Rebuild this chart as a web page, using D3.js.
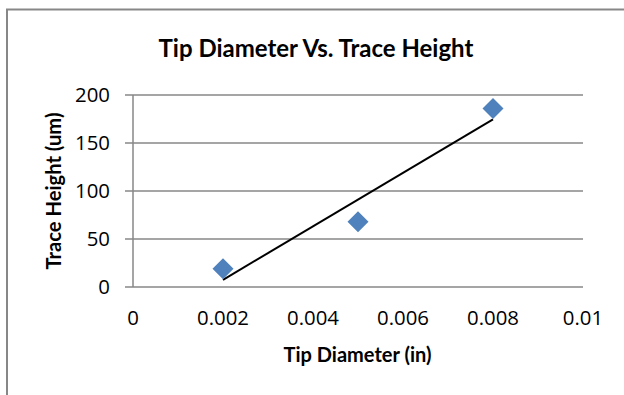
<!DOCTYPE html>
<html>
<head>
<meta charset="utf-8">
<script src="https://cdn.jsdelivr.net/npm/d3@7"></script>
<style>
  body { margin: 0; background: #fff; }
  svg { display: block; }
  .tick-label { font-family: "Open Sans", sans-serif; fill: #000; }
  .title { font-family: Lato, sans-serif; font-weight: bold; fill: #000; }
</style>
</head>
<body>
<div id="chart"></div>
<script>
// data
const tipDiameter = [0.002, 0.005, 0.008];
const traceHeight = [19, 68, 186];
const xTicks = [0, 0.002, 0.004, 0.006, 0.008, 0.01];
const yTicks = [0, 50, 100, 150, 200];

const W = 624, H = 395;
const plot = { left: 133, right: 583, top: 95, bottom: 287 };
const gridColor = "#878787";

const svg = d3.select("#chart").append("svg")
  .attr("width", W)
  .attr("height", H);

// scale a text's font-size so it spans the given width
function fitWidth(sel, target) {
  const node = sel.node();
  const fs = parseFloat(sel.attr("font-size"));
  const w = node.getComputedTextLength();
  if (w > 0) sel.attr("font-size", (fs * target / w).toFixed(2));
}

// chart area border (runs off the right and bottom edge)
svg.append("rect")
  .attr("x", 7).attr("y", 9.5)
  .attr("width", 660).attr("height", 420)
  .attr("fill", "none")
  .attr("stroke", gridColor)
  .attr("stroke-width", 2);

const x = d3.scaleLinear().domain([0, 0.01]).range([plot.left, plot.right]);
const y = d3.scaleLinear().domain([0, 200]).range([plot.bottom, plot.top]);

// gridlines + little ticks on the left
svg.append("g")
  .selectAll("line")
  .data(yTicks)
  .join("line")
  .attr("x1", plot.left - 8)
  .attr("x2", plot.right)
  .attr("y1", d => y(d))
  .attr("y2", d => y(d))
  .attr("stroke", gridColor)
  .attr("stroke-width", 1.5);

svg.append("line")
  .attr("x1", plot.left).attr("x2", plot.left)
  .attr("y1", plot.top).attr("y2", plot.bottom)
  .attr("stroke", gridColor)
  .attr("stroke-width", 1.5);

// tick font size from a sample label, 0.002 is ~52px wide in the reference
const probe = svg.append("text").attr("class", "tick-label")
  .attr("font-size", 20).text("0.002");
fitWidth(probe, 52);
const tickSize = +probe.attr("font-size");
probe.remove();

// y tick labels
svg.append("g")
  .selectAll("text")
  .data(yTicks)
  .join("text")
  .attr("class", "tick-label")
  .attr("x", 110)
  .attr("y", d => y(d))
  .attr("dy", "0.36em")
  .attr("text-anchor", "end")
  .attr("font-size", tickSize)
  .text(d => d);

// x tick labels
svg.append("g")
  .selectAll("text")
  .data(xTicks)
  .join("text")
  .attr("class", "tick-label")
  .attr("x", d => x(d))
  .attr("y", 325)
  .attr("text-anchor", "middle")
  .attr("font-size", tickSize)
  .text(d => d);

// linear trendline (least squares, like Excel)
const mx = d3.mean(tipDiameter), my = d3.mean(traceHeight);
const slope = d3.sum(tipDiameter, (d, i) => (d - mx) * (traceHeight[i] - my)) /
  d3.sum(tipDiameter, d => (d - mx) * (d - mx));
const icpt = my - slope * mx;
const trend = d3.extent(tipDiameter).map(v => [v, icpt + slope * v]);

svg.append("path")
  .datum(trend)
  .attr("d", d3.line().x(d => x(d[0])).y(d => y(d[1])))
  .attr("fill", "none")
  .attr("stroke", "#000")
  .attr("stroke-width", 2);

// diamonds
svg.append("g")
  .selectAll("path")
  .data(tipDiameter.map((d, i) => [d, traceHeight[i]]))
  .join("path")
  .attr("transform", d => `translate(${x(d[0])},${y(d[1])})`)
  .attr("d", "M0,-10.5L10.5,0L0,10.5L-10.5,0Z")
  .attr("fill", "#4F81BD");

// titles
const title = svg.append("text")
  .attr("class", "title")
  .attr("x", 316).attr("y", 57)
  .attr("text-anchor", "middle")
  .attr("font-size", 24)
  .text("Tip Diameter Vs. Trace Height");
fitWidth(title, 315);

const xTitle = svg.append("text")
  .attr("class", "title")
  .attr("x", 357.5).attr("y", 362)
  .attr("text-anchor", "middle")
  .attr("font-size", 20)
  .text("Tip Diameter (in)");
fitWidth(xTitle, 148);

const yTitle = svg.append("text")
  .attr("class", "title")
  .attr("transform", `translate(61,${(plot.top + plot.bottom) / 2}) rotate(-90)`)
  .attr("text-anchor", "middle")
  .attr("font-size", 20)
  .text("Trace Height (um)");
fitWidth(yTitle, 157);
</script>
</body>
</html>
